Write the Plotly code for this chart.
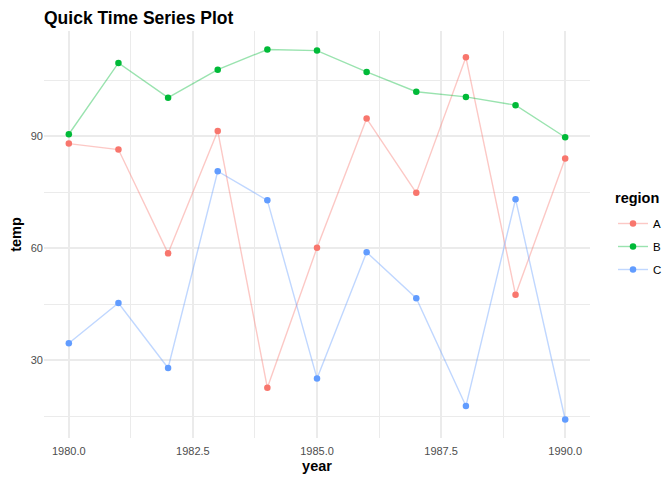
import plotly.graph_objects as go

years = [1980, 1981, 1982, 1983, 1984, 1985, 1986, 1987, 1988, 1989, 1990]
temp_A = [88.0, 86.4, 58.6, 91.4, 22.6, 60.1, 94.7, 74.8, 111.1, 47.5, 84.0]
temp_B = [90.5, 109.6, 100.3, 107.8, 113.2, 112.9, 107.2, 101.9, 100.5, 98.3, 89.7]
temp_C = [34.5, 45.3, 27.9, 80.6, 72.8, 25.1, 58.9, 46.6, 17.7, 73.1, 14.1]
regions = ["A", "B", "C"]
colors = {"A": "#F8766D", "B": "#00BA38", "C": "#619CFF"}
faded = {"A": "rgba(248,118,109,0.4)", "B": "rgba(0,186,56,0.4)", "C": "rgba(97,156,255,0.4)"}
series = {"A": temp_A, "B": temp_B, "C": temp_C}

fig = go.Figure()
for r in regions:
    fig.add_trace(go.Scatter(
        x=years, y=series[r], name=r, mode="lines+markers", legendgroup=r,
        line=dict(color=faded[r], width=1.4),
        marker=dict(color=colors[r], size=6.5),
    ))

allv = temp_A + temp_B + temp_C
lo, hi = min(allv), max(allv)
pad = (hi - lo) * 0.05

# page has an 8px body margin, so the figure is 664x472
W, H = 664, 472
L, R, T, B = 36, 82, 23, 42
pw, ph = W - L - R, H - T - B

font = "Liberation Sans, Arial, sans-serif"
grid = "#EBEBEB"
fig.update_layout(
    width=W, height=H,
    margin=dict(l=L, r=R, t=T, b=B, autoexpand=False),
    paper_bgcolor="white", plot_bgcolor="white",
    font=dict(family=font, color="#4D4D4D", size=11),
    title=dict(text="<b>Quick Time Series Plot</b>", x=L / W, xanchor="left",
               y=1 - 10 / H, yanchor="middle", font=dict(size=17.5, color="black"),
               automargin=False),
    legend=dict(x=1 + 23 / pw, xanchor="left", y=(H - B - 201) / ph, yanchor="top",
                font=dict(size=11.5, color="black"), itemwidth=30, tracegroupgap=4),
    showlegend=True,
    annotations=[dict(text="<b>region</b>", xref="paper", yref="paper",
                      x=1 + (605 - (W - R)) / pw, y=(H - B - 190) / ph,
                      xanchor="left", yanchor="middle", showarrow=False,
                      font=dict(size=14.5, color="black"))],
)
fig.update_xaxes(
    range=[1979.5, 1990.5], tick0=1980, dtick=2.5, tickformat=".1f", automargin=False,
    showgrid=True, gridcolor=grid, gridwidth=1.5, zeroline=False, ticks="",
    showline=False, ticklabelstandoff=5,
    minor=dict(dtick=1.25, tick0=1980, showgrid=True, gridcolor=grid, gridwidth=0.8),
    title=dict(text="<b>year</b>", font=dict(size=14.5, color="black"), standoff=4),
    tickfont=dict(size=11, color="#4D4D4D"),
)
fig.update_yaxes(
    range=[lo - pad, hi + pad], tick0=0, dtick=30, automargin=False,
    showgrid=True, gridcolor=grid, gridwidth=1.5, zeroline=False, ticks="",
    showline=False,
    minor=dict(dtick=15, tick0=0, showgrid=True, gridcolor=grid, gridwidth=0.8),
    title=dict(text="<b>temp</b>", font=dict(size=14.5, color="black"), standoff=7),
    tickfont=dict(size=11, color="#4D4D4D"),
)
fig.write_html("out.html")
